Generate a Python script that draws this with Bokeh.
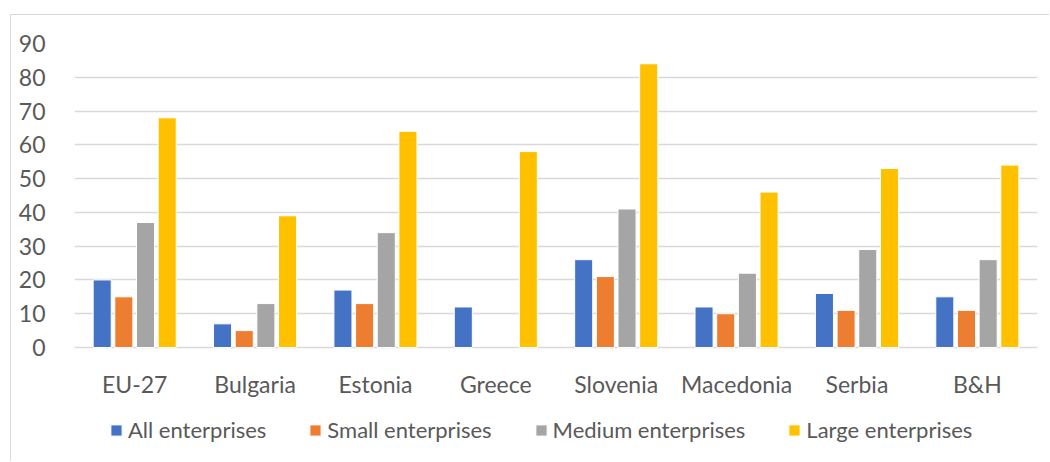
from bokeh.plotting import figure
from bokeh.models import ColumnDataSource, FactorRange, Range1d, Legend, LegendItem
from bokeh.core.properties import value
from bokeh.transform import dodge
from bokeh.embed import file_html
from bokeh.resources import INLINE

nan = float("nan")
countries = ["EU-27", "Bulgaria", "Estonia", "Greece", "Slovenia", "Macedonia", "Serbia", "B&H"]
all_ent = [20, 7, 17, 12, 26, 12, 16, 15]
small_ent = [15, 5, 13, nan, 21, 10, 11, 11]
medium_ent = [37, 13, 34, nan, 41, 22, 29, 26]
large_ent = [68, 39, 64, 58, 84, 46, 53, 54]
series_names = ["All enterprises", "Small enterprises", "Medium enterprises", "Large enterprises"]
colors = ["#4472C4", "#ED7D31", "#A5A5A5", "#FFC000"]
y_ticks = [0, 10, 20, 30, 40, 50, 60, 70, 80, 90]

src = ColumnDataSource(dict(x=countries, a=all_ent, s=small_ent, m=medium_ent, l=large_ent,
                            zero=[0] * len(countries)))

FONT = "Lato"
TXT = "#595959"
FS = "23px"

# frame: y=90 at 43px, y=0 at 347px; frame extended downward to hold labels and legend
px_per_unit = (347 - 43) / 90.0
y_bottom = -(460 - 347) / px_per_unit

p = figure(x_range=FactorRange(*countries), y_range=Range1d(y_bottom, 90),
           width=1039, height=447, output_backend="svg", toolbar_location=None,
           x_axis_location=None,
           min_border_left=63, min_border_right=13, min_border_top=28, min_border_bottom=2)
p.margin = (14, 0, 0, 10)
p.styles = {"border-top": "1px solid #d9d9d9", "border-left": "1px solid #d9d9d9"}
p.outline_line_color = None

offsets = [-0.27, -0.09, 0.09, 0.27]
renderers = []
for col, off, c in zip(["a", "s", "m", "l"], offsets, colors):
    r = p.vbar(x=dodge("x", off, range=p.x_range), top=col, width=0.15, source=src,
               fill_color=c, line_color="white", line_width=1)
    renderers.append(r)

# category labels under the baseline
p.text(x="x", y="zero", text="x", source=src, y_offset=36,
       text_align="center", text_baseline="middle",
       text_font=value(FONT), text_font_size=FS, text_color=TXT)

p.xgrid.grid_line_color = None
p.ygrid.grid_line_color = "#d9d9d9"
p.ygrid.grid_line_width = 1.5
p.yaxis.ticker = y_ticks
p.yaxis.axis_line_color = None
p.yaxis.major_tick_line_color = None
p.yaxis.minor_tick_line_color = None
p.yaxis.major_label_standoff = 23
p.yaxis.major_label_text_font = FONT
p.yaxis.major_label_text_font_size = FS
p.yaxis.major_label_text_color = TXT

legend = Legend(items=[LegendItem(label=n, renderers=[r]) for n, r in zip(series_names, renderers)],
                location=(35, 17), orientation="horizontal")
legend.glyph_width = 14
legend.glyph_height = 14
legend.label_standoff = 5
legend.spacing = 42
legend.padding = 0
legend.margin = 0
legend.border_line_color = None
legend.background_fill_alpha = 0
legend.label_text_font = FONT
legend.label_text_font_size = "22px"
legend.label_text_color = TXT
legend.label_height = 20
p.add_layout(legend, "center")

open("out.html", "w").write(file_html(p, INLINE))
